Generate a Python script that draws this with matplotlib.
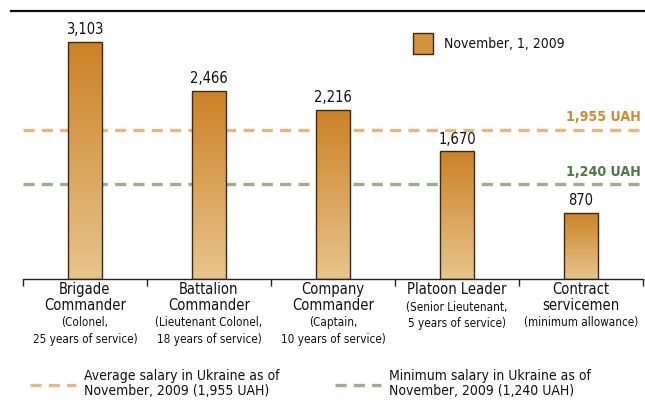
import matplotlib
matplotlib.use("Agg")
import matplotlib.pyplot as plt
import numpy as np
from matplotlib import font_manager as fm
from matplotlib.colors import LinearSegmentedColormap
from matplotlib.patches import Rectangle
from matplotlib.lines import Line2D

categories = ["Brigade\nCommander", "Battalion\nCommander", "Company\nCommander",
              "Platoon Leader", "Contract\nservicemen"]
subtitles = ["(Colonel,\n25 years of service)", "(Lieutenant Colonel,\n18 years of service)",
             "(Captain,\n10 years of service)", "(Senior Lieutenant,\n5 years of service)",
             "(minimum allowance)"]
values = [3103, 2466, 2216, 1670, 870]
value_labels = ["3,103", "2,466", "2,216", "1,670", "870"]
avg_salary = 1955
min_salary = 1240
series_name = "November, 1, 2009"
avg_label = "1,955 UAH"
min_label = "1,240 UAH"
avg_legend = "Average salary in Ukraine as of\nNovember, 2009 (1,955 UAH)"
min_legend = "Minimum salary in Ukraine as of\nNovember, 2009 (1,240 UAH)"

# pick a narrow font file if one exists
def find_font(bold=False):
    prefs = ["LiberationSansNarrow", "DejaVuSansCondensed", "RobotoCondensed", "OpenSansCondensed"]
    files = [f.fname for f in fm.fontManager.ttflist]
    for p in prefs:
        for fn in files:
            base = fn.split("/")[-1].replace("-", "").replace("_", "")
            if base.startswith(p):
                rest = base[len(p):].lower()
                if bold and rest.startswith("bold."):
                    return fn
                if not bold and (rest.startswith("regular.") or rest.startswith(".")):
                    return fn
    return None

reg_file = find_font(False)
bold_file = find_font(True)

def fp(size, bold=False):
    f = bold_file if bold else reg_file
    if f:
        return fm.FontProperties(fname=f, size=size)
    return fm.FontProperties(family="DejaVu Sans", size=size * 0.88,
                             weight="bold" if bold else "normal")

W, H = 645, 403
fig = plt.figure(figsize=(W / 100, H / 100), dpi=100)

ax_left, ax_right = 23, 643
ax_bottom, ax_top = 279, 11
ax = fig.add_axes([ax_left / W, 1 - ax_bottom / H, (ax_right - ax_left) / W, (ax_bottom - ax_top) / H])

n = len(values)
x = np.arange(n)
ymax = (ax_bottom - ax_top) / (237 / 3103)

cmap = LinearSegmentedColormap.from_list("bar", ["#E8C48D", "#CC8226"])
grad = np.linspace(0, 1, 256).reshape(-1, 1)
bw = 0.27
bars = ax.bar(x, values, width=bw, color="none", edgecolor="#3a2a18", linewidth=1.0, zorder=3)
for rect in bars:
    x0 = rect.get_x()
    h = rect.get_height()
    im = ax.imshow(grad, cmap=cmap, origin="lower", aspect="auto",
                   extent=[x0, x0 + bw, 0, h], zorder=2.5, interpolation="bicubic")
    im.set_clip_path(rect)
ax.set_xlim(-0.5, n - 0.5)
ax.set_ylim(0, ymax)

for xi, v, lab in zip(x, values, value_labels):
    ax.text(xi, v + 60, lab, ha="center", va="bottom", fontproperties=fp(10.5), color="#111111", zorder=4)

ax.axhline(avg_salary, color="#E8B878", lw=2.4, dashes=(3.3, 2.2), zorder=1)
ax.axhline(min_salary, color="#9BB08F", lw=2.4, dashes=(3.3, 2.2), zorder=1)
ax.text(n - 0.52, avg_salary + 75, avg_label, ha="right", va="bottom", fontproperties=fp(10.2, True),
        color="#D08A30")
ax.text(n - 0.52, min_salary + 75, min_label, ha="right", va="bottom", fontproperties=fp(10.2, True),
        color="#4C7A45")

for s in ["top", "left", "right"]:
    ax.spines[s].set_visible(False)
ax.spines["bottom"].set_color("#222222")
ax.spines["bottom"].set_linewidth(1.0)
ax.set_yticks([])
ax.set_xticks(np.arange(n + 1) - 0.5)
ax.set_xticklabels([])
ax.tick_params(axis="x", direction="out", length=5, width=1, color="#222222")

for xi, cat, sub in zip(x, categories, subtitles):
    nl = cat.count("\n") + 1
    ax.annotate(cat, (xi, 0), xycoords="data", xytext=(0, -2.4), textcoords="offset points",
                ha="center", va="top", fontproperties=fp(10.5), linespacing=1.09, color="#111111",
                annotation_clip=False)
    ax.annotate(sub, (xi, 0), xycoords="data", xytext=(0, -4.3 - nl * 11.3), textcoords="offset points",
                ha="center", va="top", fontproperties=fp(8.4), linespacing=1.33, color="#111111",
                annotation_clip=False)

# top rule
fig.add_artist(Line2D([11 / W, 1], [1 - 11 / H, 1 - 11 / H], color="#111111", lw=1.6))

# series legend
fig.add_artist(Rectangle((413 / W, 1 - 54 / H), 20 / W, 21 / H, facecolor="#D4923A",
                         edgecolor="#3a2a18", lw=1.0))
fig.text(444 / W, 1 - 44 / H, series_name, ha="left", va="center", fontproperties=fp(10), color="#111111")

# bottom legend
ly = 1 - 385 / H
fig.add_artist(Line2D([30 / W, 76 / W], [ly, ly], color="#E8B878", lw=2.4, dashes=(3.3, 2.2)))
fig.text(84 / W, 1 - 369 / H, avg_legend, ha="left", va="top", fontproperties=fp(10),
         linespacing=1.11, color="#111111")
fig.add_artist(Line2D([335 / W, 381 / W], [ly, ly], color="#9BB08F", lw=2.4, dashes=(3.3, 2.2)))
fig.text(389 / W, 1 - 369 / H, min_legend, ha="left", va="top", fontproperties=fp(10),
         linespacing=1.11, color="#111111")

fig.savefig("out.png", dpi=100)
